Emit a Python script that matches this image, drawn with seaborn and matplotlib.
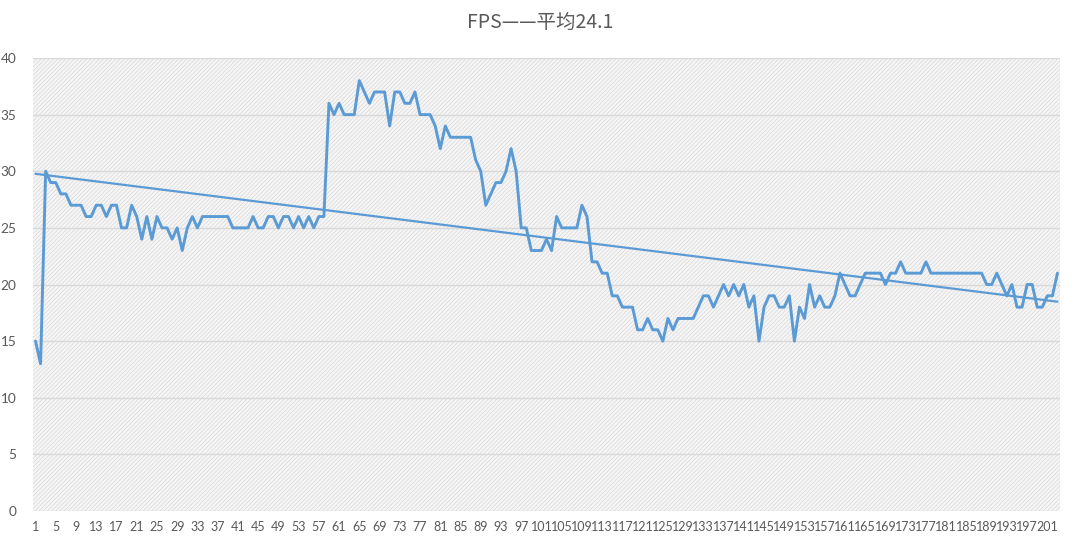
import numpy as np
import pandas as pd
import matplotlib
matplotlib.use("Agg")
import matplotlib.pyplot as plt
from matplotlib.patches import Rectangle
import seaborn as sns

title = "FPS——平均24.1"

fps = [
    15, 13, 30, 29, 29, 28, 28, 27, 27, 27,
    26, 26, 27, 27, 26, 27, 27, 25, 25, 27,
    26, 24, 26, 24, 26, 25, 25, 24, 25, 23,
    25, 26, 25,
    26, 26, 26, 26, 26, 26, 25, 25, 25, 25,
    26, 25, 25, 26, 26, 25, 26, 26, 25, 26,
    25, 26, 25, 26, 26,
    36, 35, 36, 35, 35, 35, 38, 37, 36, 37,
    37, 37, 34, 37, 37, 36, 36, 37, 35, 35,
    35, 34, 32, 34, 33, 33, 33, 33, 33, 31,
    30, 27, 28, 29, 29, 30, 32, 30, 25, 25,
    23, 23, 23, 24, 23, 26, 25, 25, 25, 25,
    27, 26,
    22, 22, 21, 21, 19, 19, 18, 18, 18, 16,
    16, 17, 16, 16, 15, 17, 16, 17, 17, 17,
    17, 18, 19, 19, 18, 19, 20, 19, 20, 19,
    20, 18, 19, 15, 18, 19, 19, 18, 18, 19,
    15, 18, 17, 20, 18, 19, 18, 18,
    19, 21, 20, 19, 19, 20, 21, 21, 21, 21,
    20, 21, 21, 22, 21, 21, 21, 21, 22, 21,
    21, 21, 21, 21, 21, 21, 21, 21, 21, 21,
    20, 20, 21, 20, 19, 20, 18, 18, 20, 20,
    18, 18, 19, 19, 21,
]
frame = list(range(1, len(fps) + 1))
x_ticks = list(range(1, 202, 4))
y_ticks = list(range(0, 41, 5))

df = pd.DataFrame({"frame": frame, "fps": fps})

sns.set_theme(style="white")
plt.rcParams["font.family"] = ["Lato", "Noto Sans CJK SC", "DejaVu Sans"]

fig = plt.figure(figsize=(10.8, 5.42), dpi=100)
ax = fig.add_axes([33 / 1080, 31 / 542, 1027 / 1080, 453 / 542])

line_color = "#5b9bd5"
grey_text = "#595959"

# hatched plot-area background
plt.rcParams["hatch.linewidth"] = 0.5
bg = Rectangle((0, 0), 1, 1, transform=ax.transAxes, facecolor="#f5f5f5",
               edgecolor="#d9d9d9", hatch="////////", lw=0, zorder=0)
ax.add_patch(bg)

for yv in y_ticks:
    ax.axhline(yv, color="#d9d9d9", lw=1.0, zorder=1)

sns.lineplot(data=df, x="frame", y="fps", ax=ax, color=line_color,
             linewidth=2.1, zorder=3)
sns.regplot(data=df, x="frame", y="fps", ax=ax, scatter=False, ci=None,
            line_kws={"color": line_color, "linewidth": 1.6, "zorder": 4})

ax.set_xlim(0.5, len(fps) + 0.5)
ax.set_ylim(0, 40)
ax.set_xticks(x_ticks)
ax.set_xticklabels([str(t) for t in x_ticks])
ax.set_yticks(y_ticks)
ax.set_yticklabels([str(t) for t in y_ticks])
ax.tick_params(axis="x", length=0, pad=7, labelsize=9, labelcolor=grey_text)
ax.tick_params(axis="y", length=0, pad=12, labelsize=9.8, labelcolor=grey_text)
ax.set_xlabel("")
ax.set_ylabel("")
for s in ax.spines.values():
    s.set_visible(False)
ax.grid(False)

fig.text(0.5, 1 - 22 / 542, title, ha="center", va="center", fontsize=14,
         color=grey_text, family=["Noto Sans CJK SC", "DejaVu Sans"])

fig.savefig("out.png", dpi=100)
